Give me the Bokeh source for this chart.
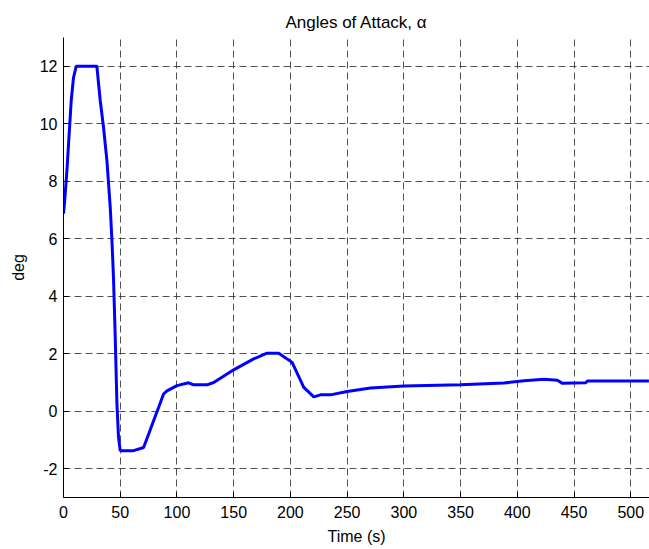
from bokeh.plotting import figure
from bokeh.models import Range1d, FixedTicker
from bokeh.embed import file_html
from bokeh.resources import INLINE

time_s = [0, 1, 3, 5, 6.8, 8.8, 11.2, 29.4, 32.4, 35.3, 38.3, 41.2, 42.7, 44.1,
          45.6, 47.1, 48.5, 50, 61.8, 70.6, 75, 79.4, 83.8, 88.2, 91.2, 100,
          110.3, 114.7, 126.5, 132.4, 150, 167.6, 179.4, 189.7, 201.5, 211.8,
          220.6, 226.5, 235.3, 250, 270.6, 300, 350, 388, 406, 423.5, 435.3,
          439.8, 460.3, 461.8, 516]
alpha_deg = [6.87, 7.3, 8.36, 9.65, 10.8, 11.6, 12.0, 12.0, 10.8, 9.87, 8.7, 7.09,
             5.93, 4.6, 2.57, 0.25, -0.91, -1.37, -1.37, -1.26, -0.8, -0.33, 0.13,
             0.6, 0.71, 0.89, 0.99, 0.92, 0.92, 1.0, 1.44, 1.82, 2.02, 2.02, 1.7,
             0.83, 0.5, 0.57, 0.57, 0.69, 0.81, 0.88, 0.92, 0.98, 1.06, 1.11,
             1.08, 0.97, 0.99, 1.05, 1.05]
x_ticks = [0, 50, 100, 150, 200, 250, 300, 350, 400, 450, 500]
y_ticks = [-2, 0, 2, 4, 6, 8, 10, 12]
y_tick_labels = ["-2", "0", "2", "4", "6", "8", "10", "12"]

FONT = "Liberation Sans"

p = figure(width=649, height=549, output_backend="svg", toolbar_location=None,
           title="Angles of Attack, \u03b1",
           x_range=Range1d(0, 516.5), y_range=Range1d(-3, 13),
           min_border_left=63, min_border_right=0, min_border_top=37,
           min_border_bottom=52)
p.outline_line_color = None
p.background_fill_color = "white"
p.border_fill_color = "white"

p.title.align = "center"
p.title.vertical_align = "middle"
p.title.text_font = FONT
p.title.text_font_size = "17px"
p.title.text_font_style = "normal"
p.title.text_color = "black"

p.line(time_s, alpha_deg, line_color="#0000ff", line_width=3)

for ax in (p.xaxis[0], p.yaxis[0]):
    ax.axis_line_color = "black"
    ax.major_tick_line_color = "black"
    ax.major_tick_in = 5
    ax.major_tick_out = 0
    ax.minor_tick_line_color = None
    ax.major_label_text_font = FONT
    ax.major_label_text_font_size = "16px"
    ax.major_label_text_color = "black"
    ax.axis_label_text_font = FONT
    ax.axis_label_text_font_size = "16px"
    ax.axis_label_text_font_style = "normal"
    ax.axis_label_text_color = "black"

p.xaxis.ticker = FixedTicker(ticks=x_ticks)
p.yaxis.ticker = FixedTicker(ticks=y_ticks)
p.yaxis.major_label_overrides = {t: s for t, s in zip(y_ticks, y_tick_labels)}
p.xaxis.axis_label = "Time (s)"
p.yaxis.axis_label = "deg"
p.xaxis.major_label_standoff = 8
p.xaxis.axis_label_standoff = 7
p.yaxis.major_label_standoff = 6
p.yaxis.axis_label_standoff = 10

for g in (p.xgrid[0], p.ygrid[0]):
    g.grid_line_color = "#333333"
    g.grid_line_alpha = 0.85
    g.grid_line_dash = "7 4"
    g.grid_line_width = 1

open("out.html", "w").write(file_html(p, INLINE))
